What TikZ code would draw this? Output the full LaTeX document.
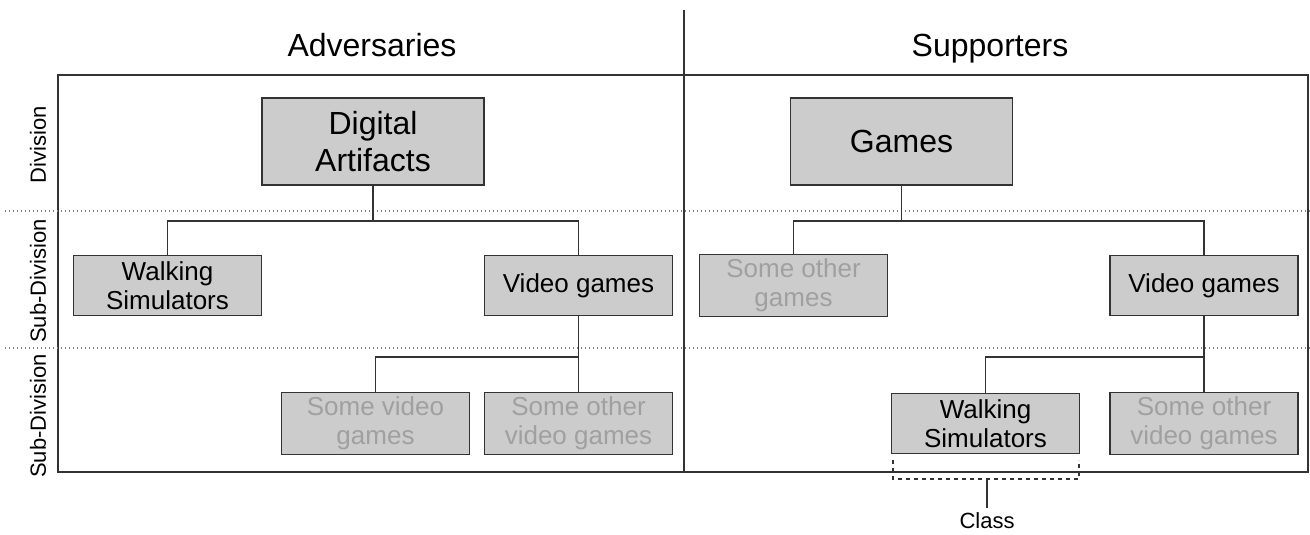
\documentclass[tikz,border=0pt]{standalone}
\usepackage{fontspec}
\setmainfont{Liberation Sans}
\definecolor{boxfill}{RGB}{204,204,204}
\definecolor{boxline}{RGB}{51,51,51}
\definecolor{fadetext}{RGB}{160,160,160}
\tikzset{every picture/.style={line width=0.75pt}}
\tikzset{
  bigbox/.style={draw=boxline, fill=boxfill, line width=1pt, minimum width=166.5pt, minimum height=65pt, align=center, font=\fontsize{24}{28}\selectfont},
  smallbox/.style={draw=boxline, fill=boxfill, line width=1pt, minimum width=141pt, minimum height=45pt, align=center, font=\fontsize{19.5}{21.5}\selectfont},
  fadebox/.style={smallbox, text=fadetext},
  title/.style={anchor=base, font=\fontsize{24}{28}\selectfont},
  rowlabel/.style={rotate=90, font=\fontsize{16.5}{20}\selectfont},
  tierline/.style={gray, dotted, line width=1pt},
  wire/.style={boxline, line width=1pt}
}

\begin{document}
\begin{tikzpicture}[x=0.75pt,y=0.75pt,yscale=-1,xscale=1]
	\useasboundingbox (0,0) rectangle (1310,535);
	
	%Straight Lines: frame and middle split
	\draw [wire]   (58,75) -- (1308,75) -- (1308,472) -- (58,472) -- cycle ;
	\draw [wire]   (684,10) -- (684,472) ;
	%Straight Lines: tier borders
	\draw [tierline]   (5,211) -- (1310,211) ;
	\draw [tierline]   (5,348) -- (1310,348) ;
	
	% Text Node
	\node [title] (adv) at (372,57) {Adversaries};
	% Text Node
	\node [title] (sup) at (990,57) {Supporters};
	% Text Node
	\node [rowlabel] (div) at (38,145) {Division};
	% Text Node
	\node [rowlabel] (subdivA) at (38,281) {Sub-Division};
	% Text Node
	\node [rowlabel] (subdivB) at (38,416) {Sub-Division};
	
	%Shape: Rectangle (adversaries)
	\node [bigbox] (digital) at (373,141.5) {Digital\\Artifacts};
	\node [smallbox] (walkL) at (167.5,285.5) {Walking\\Simulators};
	\node [smallbox] (videoL) at (578.5,285.5) {Video games};
	\node [fadebox] (somevid) at (375.5,423.5) {Some video\\games};
	\node [fadebox] (othervidL) at (578.5,423.5) {Some other\\video games};
	
	%Shape: Rectangle (supporters)
	\node [bigbox] (games) at (901.5,141.5) {Games};
	\node [fadebox] (othergames) at (793.5,285.5) {Some other\\games};
	\node [smallbox] (videoR) at (1204,285.5) {Video games};
	\node [smallbox] (walkR) at (985.5,423.5) {Walking\\Simulators};
	\node [fadebox] (othervidR) at (1204,423.5) {Some other\\video games};
	
	%Straight Lines: tree branches
	\coordinate (busA) at (373,221);
	\coordinate (busB) at (578.5,357);
	\coordinate (busC) at (901.5,221);
	\coordinate (busD) at (1204,357);
	\draw [wire]   (digital.south) -- (busA) ;
	\draw [wire]   (walkL.north) |- (busA) -| (videoL.north) ;
	\draw [wire]   (videoL.south) -- (othervidL.north) ;
	\draw [wire]   (somevid.north) |- (busB) ;
	\draw [wire]   (games.south) -- (busC) ;
	\draw [wire]   (othergames.north) |- (busC) -| (videoR.north) ;
	\draw [wire]   (videoR.south) -- (othervidR.north) ;
	\draw [wire]   (walkR.north) |- (busD) ;
	
	%Straight Lines: class bracket
	\coordinate (brace) at (987,479);
	\draw [boxline, dashed, line width=1pt]   (893,460) -- (893,479) -- (1079,479) -- (1079,460) ;
	% Text Node
	\node [font=\fontsize{16.5}{20}\selectfont] (class) at (987,521) {Class};
	\draw [boxline, line width=1pt]   (brace) -- (class.north) ;
	
\end{tikzpicture}
\end{document}
